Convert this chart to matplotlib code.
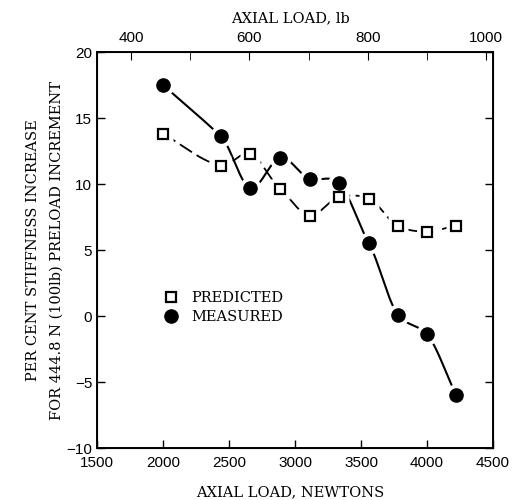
import numpy as np
import matplotlib
matplotlib.use("Agg")
import matplotlib.pyplot as plt
from matplotlib.ticker import MultipleLocator

load_n = [2000, 2440, 2660, 2890, 3110, 3330, 3560, 3780, 4000, 4220]
predicted = [13.8, 11.4, 12.3, 9.6, 7.6, 9.0, 8.9, 6.8, 6.4, 6.85]
measured = [17.5, 13.6, 9.7, 12.0, 10.4, 10.1, 5.5, 0.1, -1.4, -6.0]


def cardinal(x, y, n=400, c=0.8):
    x = np.asarray(x, float)
    y = np.asarray(y, float)
    k = len(x)
    h = np.diff(x)
    m = np.zeros(k)
    m[1:-1] = c * (y[2:] - y[:-2]) / (x[2:] - x[:-2])
    m[0] = (y[1] - y[0]) / h[0]
    m[-1] = (y[-1] - y[-2]) / h[-1]
    xs = np.linspace(x[0], x[-1], n)
    idx = np.clip(np.searchsorted(x, xs) - 1, 0, k - 2)
    hh = h[idx]
    t = (xs - x[idx]) / hh
    h00 = 2 * t ** 3 - 3 * t ** 2 + 1
    h10 = t ** 3 - 2 * t ** 2 + t
    h01 = -2 * t ** 3 + 3 * t ** 2
    h11 = t ** 3 - t ** 2
    ys = h00 * y[idx] + h10 * hh * m[idx] + h01 * y[idx + 1] + h11 * hh * m[idx + 1]
    return xs, ys


serif = "DejaVu Serif"
sans = "Liberation Sans"

fig = plt.figure(figsize=(5.18, 5.0), dpi=100)
ax = fig.add_axes([0.1873, 0.104, 0.7644, 0.792])

xs, ys = cardinal(load_n, predicted)
ax.plot(xs, ys, color="black", lw=1.3, dashes=(8, 3), zorder=2)
xs, ys = cardinal(load_n, measured)
ax.plot(xs, ys, color="black", lw=1.5, zorder=2)

# white halos so the curves stop short of the markers
ax.plot(load_n, predicted, ls="none", marker="s", ms=14, mfc="white", mec="none", zorder=3)
ax.plot(load_n, measured, ls="none", marker="o", ms=16, mfc="white", mec="none", zorder=3)

ax.plot(load_n, predicted, ls="none", marker="s", ms=7, mfc="white", mec="black", mew=1.6,
        zorder=4, label="PREDICTED")
ax.plot(load_n, measured, ls="none", marker="o", ms=9.5, mfc="black", mec="black",
        zorder=4, label="MEASURED")

ax.set_xlim(1500, 4500)
ax.set_ylim(-10, 20)
ax.xaxis.set_major_locator(MultipleLocator(500))
ax.yaxis.set_major_locator(MultipleLocator(5))
ax.tick_params(axis="both", direction="in", length=6, width=1.0, labelsize=11,
               right=True, top=False)
ax.tick_params(axis="x", pad=6)
for lab in ax.get_xticklabels() + ax.get_yticklabels():
    lab.set_family(sans)
for s in ax.spines.values():
    s.set_linewidth(1.4)

top = ax.twiny()
top.set_xlim(342.5, 1011.8)
top.xaxis.set_minor_locator(MultipleLocator(100))
top.set_xticks([400, 600, 800, 1000])
top.tick_params(axis="x", which="major", direction="in", length=6, labelsize=11, pad=5)
top.tick_params(axis="x", which="minor", direction="in", length=6)
for lab in top.get_xticklabels():
    lab.set_family(sans)

fig.text(0.56, 0.016, "AXIAL LOAD, NEWTONS", ha="center", va="center",
         family=serif, fontsize=10.5)
fig.text(0.56, 0.964, "AXIAL LOAD, lb", ha="center", va="center",
         family=serif, fontsize=10.5)
fig.text(0.064, 0.50, "PER CENT STIFFNESS INCREASE", rotation=90, ha="center",
         va="center", family=serif, fontsize=10.5)
fig.text(0.11, 0.50, "FOR 444.8 N (100lb) PRELOAD INCREMENT", rotation=90,
         ha="center", va="center", family=serif, fontsize=10.5)

leg = ax.legend(loc="upper left", bbox_to_anchor=(0.15, 0.415), frameon=False,
                handlelength=1.0, handletextpad=0.9, borderpad=0, labelspacing=0.35,
                prop={"family": serif, "size": 10.5})

fig.savefig("out.png", dpi=100)
